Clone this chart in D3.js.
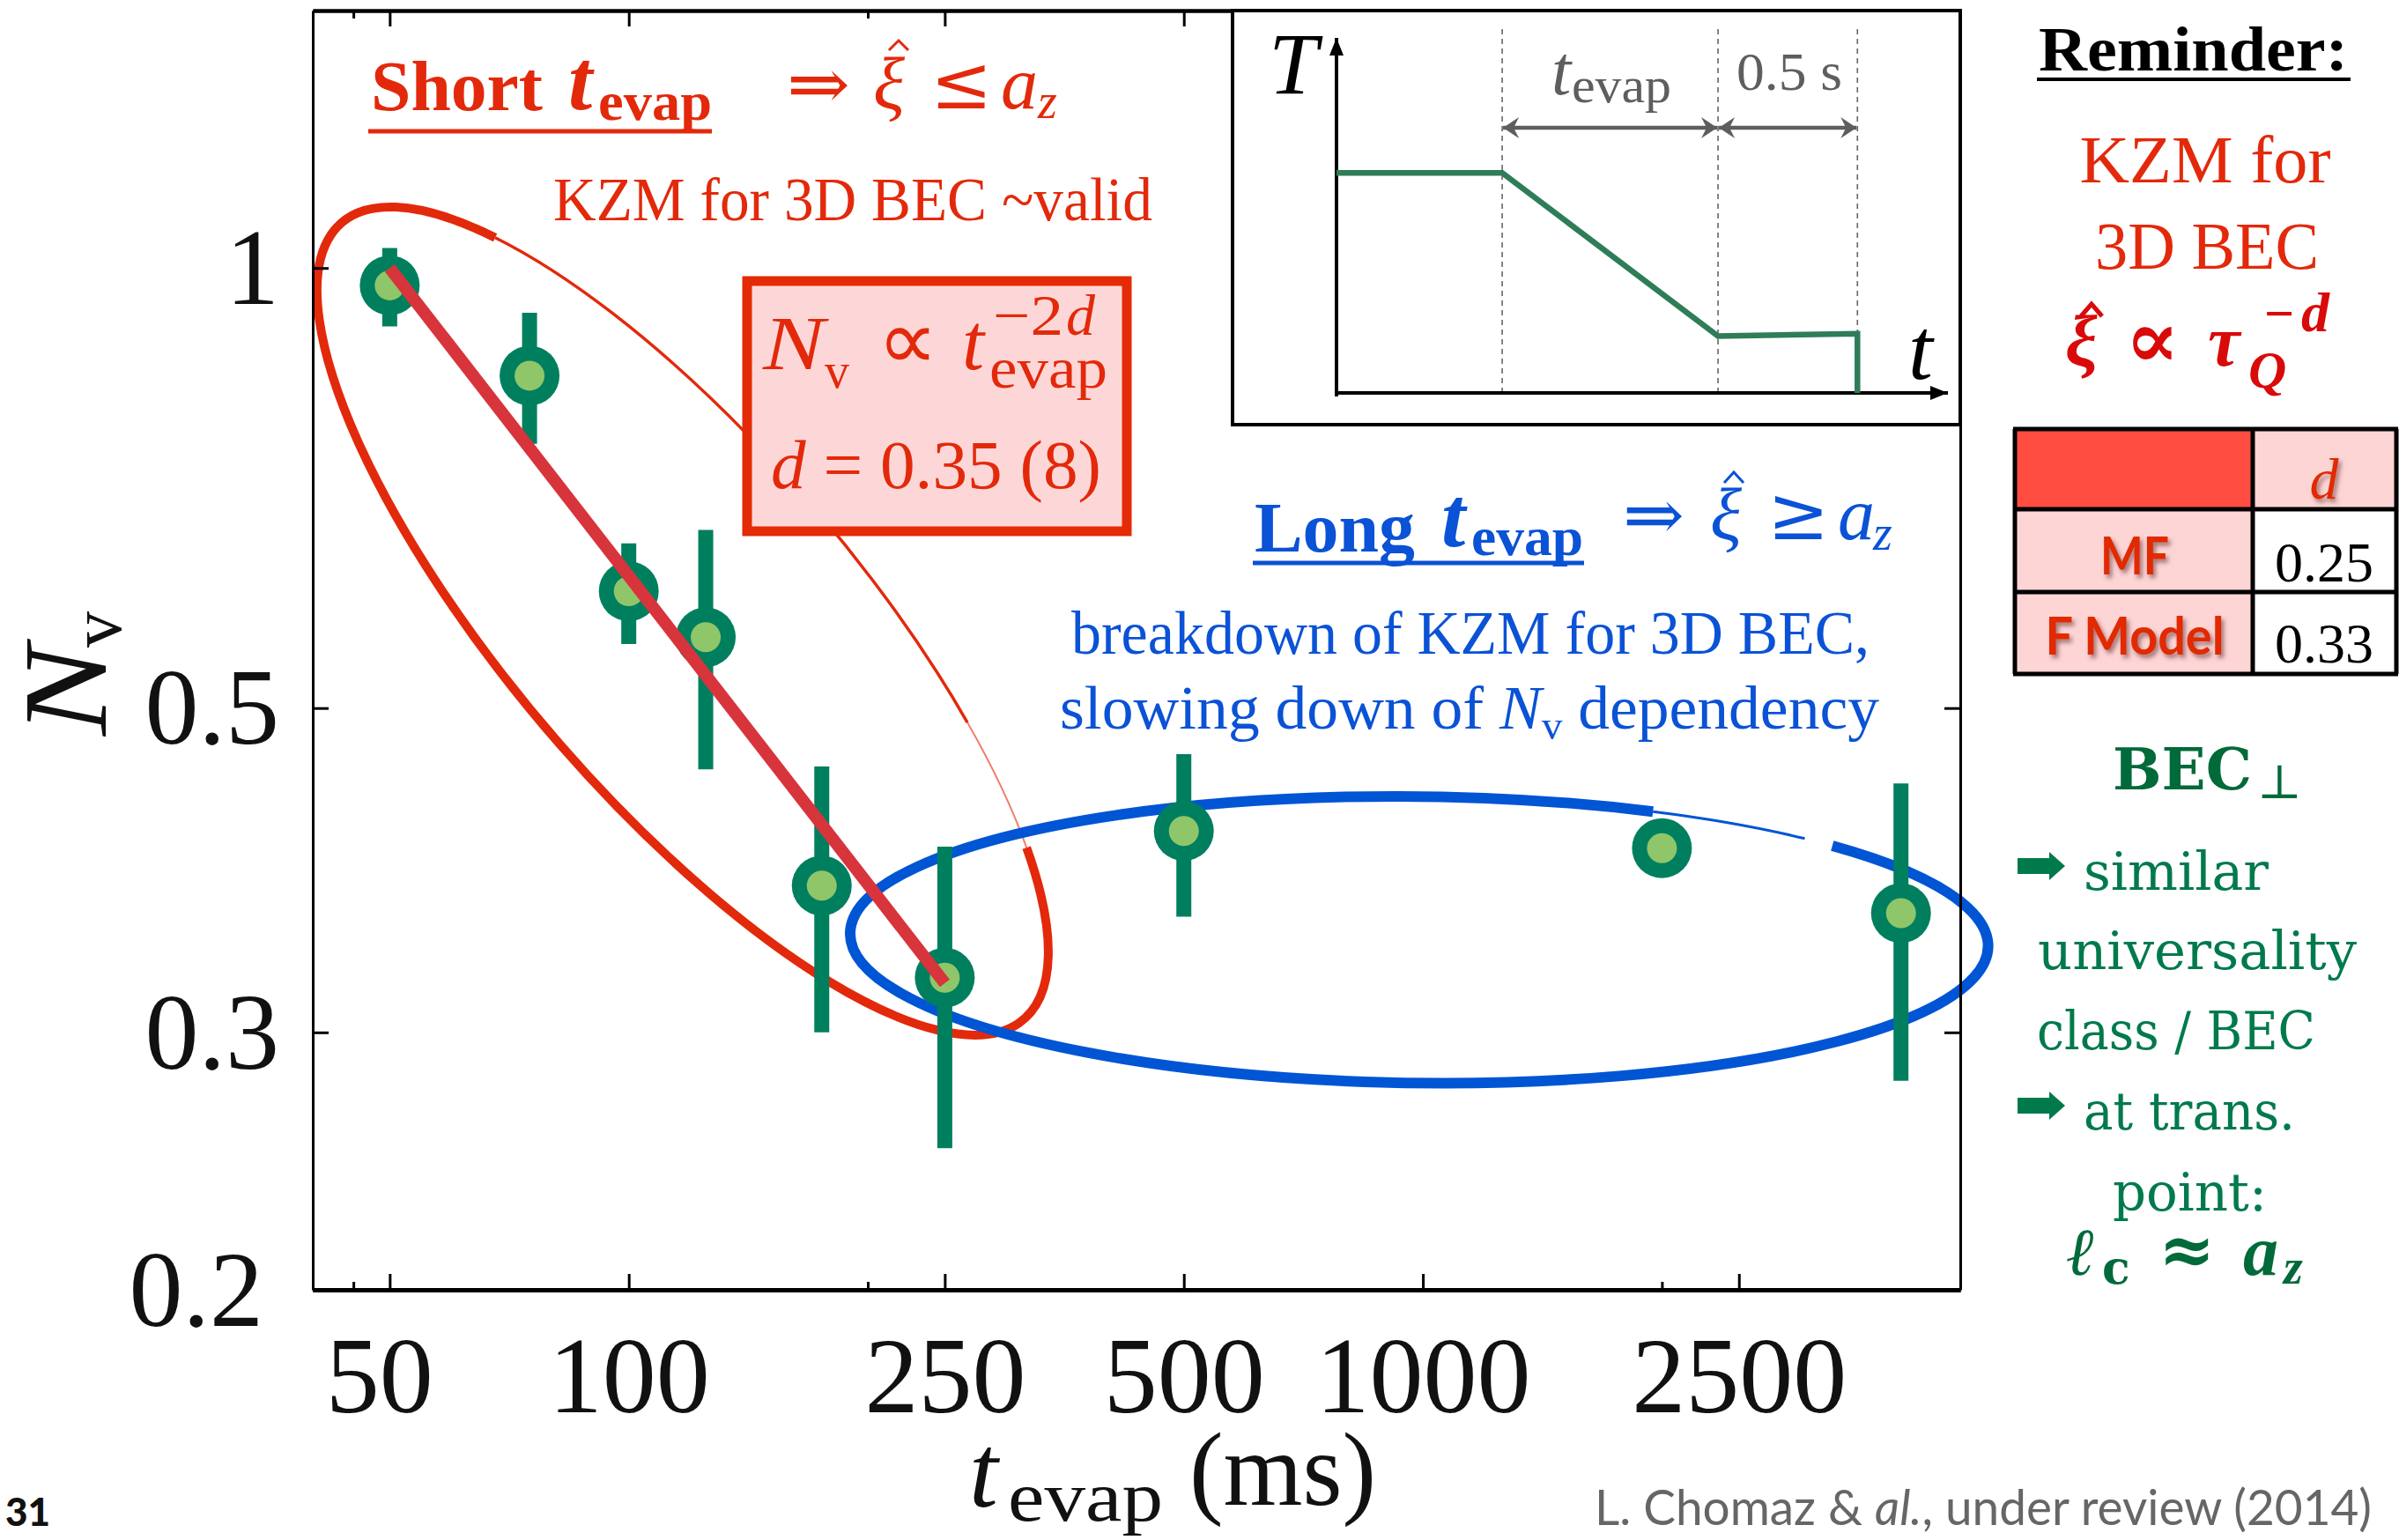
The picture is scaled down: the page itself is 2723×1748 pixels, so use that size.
<!DOCTYPE html>
<html><head><meta charset="utf-8">
<script src="https://cdn.jsdelivr.net/npm/d3@7"></script>
<style>
html,body{margin:0;padding:0;background:#fff;}
svg{display:block;}
</style></head><body>
<svg id="c" width="2723" height="1748"></svg>
<script>
// ---------------- data ----------------
const tevap  = [50, 75, 100, 125, 175, 250, 500, 2000, 4000];
const Nv     = [0.973, 0.844, 0.601, 0.559, 0.378, 0.327, 0.412, 0.401, 0.362];
const NvLow  = [0.912, 0.758, 0.553, 0.454, 0.300, 0.250, 0.360, 0.392, 0.278];
const NvHigh = [1.032, 0.932, 0.648, 0.662, 0.456, 0.402, 0.465, 0.410, 0.444];
const fitRange = [50, 250];
const fitAmp = 1.0;      // Nv at t = 50 ms
const fitD = 0.35;       // Nv ∝ t^(-2d)
const xTicksMajor = [50, 100, 250, 500, 1000, 2500];
const xTicksMinor = [45, 200, 2000];
const yTicks = [0.2, 0.3, 0.5, 1];
const yTickLabels = ["0.2", "0.3", "0.5", "1"];
const tableRows = ["MF", "F Model"];
const tableD = ["0.25", "0.33"];
// inset schematic (normalised time / temperature)
const insetTime = [0, 0.271, 0.624, 0.852, 0.852];
const insetTemp = [0.62, 0.62, 0.16, 0.167, 0];
const insetMarks = [0.271, 0.624, 0.852];
// annotation ellipses in data space
const redEllipseTips = [[43.5, 1.074], [314.3, 0.3062]];
const blueEllipseT = [190, 5150];
const blueEllipseN = [0.277, 0.435];

// ---------------- setup ----------------
const svg = d3.select("#c");
svg.append("rect").attr("width", 2723).attr("height", 1748).attr("fill", "#fff");
const defs = svg.append("defs");
const f = defs.append("filter").attr("id", "shadow").attr("x", "-20%").attr("y", "-20%").attr("width", "140%").attr("height", "140%");
f.append("feDropShadow").attr("dx", 3).attr("dy", 4).attr("stdDeviation", 2.5).attr("flood-color", "#6a3030").attr("flood-opacity", 0.6);
defs.append("marker").attr("id", "barb").attr("viewBox", "-20 -14 22 28").attr("refX", 0).attr("refY", 0)
  .attr("markerWidth", 22).attr("markerHeight", 28).attr("markerUnits", "userSpaceOnUse").attr("orient", "auto-start-reverse")
  .append("path").attr("d", "M0,0 L-18,-12 L-12,0 L-18,12 Z").attr("fill", "#5e5e5e");
defs.append("marker").attr("id", "tri").attr("viewBox", "-22 -10 24 20").attr("refX", 0).attr("refY", 0)
  .attr("markerWidth", 24).attr("markerHeight", 20).attr("markerUnits", "userSpaceOnUse").attr("orient", "auto")
  .append("path").attr("d", "M0,0 L-20,-8 L-20,8 Z").attr("fill", "#000");

const RED = "#e3290b", BLUE = "#0a52d6", GREEN = "#007f5f", LIGHT = "#8fc66a", TXTGREEN = "#007a4c";
const X0 = 355, X1 = 2225, Y0 = 12, Y1 = 1464;
const x = d3.scaleLog().domain([40, 4750]).range([X0, X1]);
const y = d3.scaleLog().domain([0.2, 1.5]).range([Y1, Y0]);

function T(parent, px, py, s, o = {}) {
  const t = parent.append("text").attr("x", px).attr("y", py).text(s)
    .attr("font-family", o.ff || "Liberation Serif")
    .attr("font-size", o.fs || 70)
    .attr("fill", o.fill || "#000");
  if (o.fw) t.attr("font-weight", o.fw);
  if (o.fst) t.attr("font-style", o.fst);
  if (o.anchor) t.attr("text-anchor", o.anchor);
  if (o.len) t.attr("textLength", o.len).attr("lengthAdjust", "spacingAndGlyphs");
  if (o.filter) t.attr("filter", o.filter);
  return t;
}
function hat(cx, cy, w, h, col, sw) {
  svg.append("path").attr("d", `M${cx - w / 2},${cy + h} L${cx},${cy} L${cx + w / 2},${cy + h}`)
    .attr("fill", "none").attr("stroke", col).attr("stroke-width", sw).attr("stroke-linejoin", "miter");
}

// ---------------- annotation ellipses ----------------
// arc of an ellipse (local frame) from angle t1 to t2 (degrees, clockwise on screen)
function arcPath(a, b, t1, t2) {
  const r = Math.PI / 180;
  const p1 = [a * Math.cos(t1 * r), b * Math.sin(t1 * r)], p2 = [a * Math.cos(t2 * r), b * Math.sin(t2 * r)];
  const large = (t2 - t1) > 180 ? 1 : 0;
  return `M${p1[0]},${p1[1]} A${a},${b} 0 ${large} 1 ${p2[0]},${p2[1]}`;
}
{
  const p1 = [x(redEllipseTips[0][0]), y(redEllipseTips[0][1])];
  const p2 = [x(redEllipseTips[1][0]), y(redEllipseTips[1][1])];
  const cx = (p1[0] + p2[0]) / 2, cy = (p1[1] + p2[1]) / 2;
  const a = Math.hypot(p2[0] - p1[0], p2[1] - p1[1]) / 2, b = a * 0.331;
  const ang = Math.atan2(p2[1] - p1[1], p2[0] - p1[0]) * 180 / Math.PI;
  const g = svg.append("g").attr("transform", `translate(${cx},${cy}) rotate(${ang})`);
  g.append("path").attr("d", arcPath(a, b, 218, 300)).attr("fill", "none").attr("stroke", RED).attr("stroke-width", 3.5);
  g.append("path").attr("d", arcPath(a, b, 300, 319)).attr("fill", "none").attr("stroke", RED).attr("stroke-width", 2).attr("opacity", 0.6);
  g.append("path").attr("d", arcPath(a, b, -41, 218)).attr("fill", "none").attr("stroke", RED).attr("stroke-width", 10);
}
{
  const cx = (x(blueEllipseT[0]) + x(blueEllipseT[1])) / 2, rx = (x(blueEllipseT[1]) - x(blueEllipseT[0])) / 2;
  const cy = (y(blueEllipseN[0]) + y(blueEllipseN[1])) / 2, ry = (y(blueEllipseN[0]) - y(blueEllipseN[1])) / 2;
  const g = svg.append("g").attr("transform", `translate(${cx},${cy}) rotate(0.66)`);
  g.append("path").attr("d", arcPath(rx, ry, -43.6, 294.1)).attr("fill", "none").attr("stroke", "#0055d4").attr("stroke-width", 12);
  g.append("path").attr("d", arcPath(rx, ry, 294.1, 312.5)).attr("fill", "none").attr("stroke", "#0055d4").attr("stroke-width", 3);
}

// ---------------- data points ----------------
const pts = tevap.map((t, i) => ({ t, n: Nv[i], lo: NvLow[i], hi: NvHigh[i] }));
const gD = svg.append("g");
gD.selectAll("line.err").data(pts).join("line").attr("class", "err")
  .attr("x1", d => x(d.t)).attr("x2", d => x(d.t)).attr("y1", d => y(d.lo)).attr("y2", d => y(d.hi))
  .attr("stroke", GREEN).attr("stroke-width", 17);
gD.selectAll("circle.o").data(pts).join("circle").attr("class", "o")
  .attr("cx", d => x(d.t)).attr("cy", d => y(d.n)).attr("r", 34).attr("fill", GREEN);
gD.selectAll("circle.i").data(pts).join("circle").attr("class", "i")
  .attr("cx", d => x(d.t)).attr("cy", d => y(d.n)).attr("r", 17).attr("fill", LIGHT);

// fit line
const fitPts = fitRange.map(t => [t, fitAmp * Math.pow(t / fitRange[0], -2 * fitD)]);
svg.append("path").attr("d", d3.line().x(d => x(d[0])).y(d => y(d[1]))(fitPts))
  .attr("fill", "none").attr("stroke", "#d8343c").attr("stroke-width", 14);

// ---------------- axes ----------------
function styleAx(g, w) {
  g.select(".domain").attr("stroke", "#000").attr("stroke-width", w);
  g.selectAll(".tick line").attr("stroke", "#000").attr("stroke-width", 3);
  g.selectAll(".tick text").remove();
}
styleAx(svg.append("g").attr("transform", `translate(0,${Y1})`).call(d3.axisBottom(x).tickValues(xTicksMajor).tickSize(-18).tickSizeOuter(0)), 5);
styleAx(svg.append("g").attr("transform", `translate(0,${Y1})`).call(d3.axisBottom(x).tickValues(xTicksMinor).tickSize(-9).tickSizeOuter(0)), 5);
styleAx(svg.append("g").attr("transform", `translate(0,${Y0})`).call(d3.axisTop(x).tickValues(xTicksMajor).tickSize(-18).tickSizeOuter(0)), 4);
styleAx(svg.append("g").attr("transform", `translate(0,${Y0})`).call(d3.axisTop(x).tickValues(xTicksMinor).tickSize(-9).tickSizeOuter(0)), 4);
styleAx(svg.append("g").attr("transform", `translate(${X0},0)`).call(d3.axisLeft(y).tickValues(yTicks).tickSize(-18).tickSizeOuter(0)), 3);
styleAx(svg.append("g").attr("transform", `translate(${X1},0)`).call(d3.axisRight(y).tickValues(yTicks).tickSize(-18).tickSizeOuter(0)), 3);

// tick labels
const xl = svg.append("g").attr("transform", `translate(0,${Y1})`)
  .call(d3.axisBottom(x).tickValues(xTicksMajor).tickSize(0).tickFormat(d3.format("d")));
xl.select(".domain").remove();
xl.selectAll("text").attr("y", 139).attr("dy", 0).attr("font-family", "Liberation Serif").attr("font-size", 122).attr("fill", "#111")
  .attr("dx", d => d === 50 ? -12 : 0);
const yl = svg.append("g").attr("transform", `translate(${X0},0)`)
  .call(d3.axisLeft(y).tickValues(yTicks).tickSize(0).tickPadding(38).tickFormat((d, i) => yTickLabels[i]));
yl.select(".domain").remove();
yl.selectAll("text").attr("font-family", "Liberation Serif").attr("font-size", 122).attr("fill", "#111").attr("dy", "0.33em")
  .attr("dx", d => d === 0.2 ? -18 : 0);

// axis titles
{
  const g = svg.append("g").attr("transform", "translate(120,835) rotate(-90)");
  T(g, 0, 0, "N", { fs: 135, fst: "italic", len: 103, fill: "#111" });
  T(g, 100, 17, "v", { fs: 82, fill: "#111" });
  T(svg, 1100, 1710, "t", { fs: 118, fst: "italic", fill: "#111" });
  T(svg, 1144, 1726, "evap", { fs: 80, len: 176, fill: "#111" });
  T(svg, 1350, 1708, "(ms)", { fs: 118, len: 212, fill: "#111" });
}

// ---------------- fit formula box ----------------
svg.append("rect").attr("x", 848).attr("y", 319).attr("width", 431).attr("height", 284)
  .attr("fill", "#fdd7d7").attr("stroke", "#e42a06").attr("stroke-width", 11);
T(svg, 866, 419, "N", { fs: 86, fst: "italic", fill: RED, len: 70 });
T(svg, 936, 440, "v", { fs: 56, fill: RED });
T(svg, 996, 419, "∝", { fs: 96, fill: RED });
T(svg, 1092, 419, "t", { fs: 90, fst: "italic", fill: RED });
T(svg, 1123, 440, "evap", { fs: 66, fill: RED, len: 134 });
T(svg, 1127, 380, "−2", { fs: 66, fill: RED, len: 80 });
T(svg, 1210, 380, "d", { fs: 66, fst: "italic", fill: RED });
{
  const t = svg.append("text").attr("x", 875).attr("y", 554).attr("font-family", "Liberation Serif")
    .attr("font-size", 78).attr("fill", RED).attr("textLength", 375).attr("lengthAdjust", "spacingAndGlyphs");
  t.append("tspan").attr("font-style", "italic").text("d");
  t.append("tspan").text(" = 0.35 (8)");
}

// ---------------- red / blue commentary ----------------
T(svg, 421, 125, "Short", { fs: 80, fw: "bold", fill: RED, len: 195 });
T(svg, 645, 124, "t", { fs: 98, fw: "bold", fst: "italic", fill: RED });
T(svg, 679, 136, "evap", { fs: 62, fw: "bold", fill: RED, len: 129 });
svg.append("line").attr("x1", 418).attr("x2", 808).attr("y1", 149).attr("y2", 149).attr("stroke", RED).attr("stroke-width", 5);
T(svg, 893, 123, "⇒", { fs: 80, fill: RED, ff: "DejaVu Serif", len: 72 });
T(svg, 991, 123, "ξ", { fs: 84, fst: "italic", fill: RED });
hat(1020, 46, 22, 11, RED, 3);
T(svg, 1056, 123, "≤", { fs: 84, fill: RED, ff: "DejaVu Serif" });
T(svg, 1136, 123, "a", { fs: 84, fst: "italic", fill: RED });
T(svg, 1178, 134, "z", { fs: 56, fst: "italic", fill: RED });
T(svg, 628, 250, "KZM for 3D BEC ~valid", { fs: 70, fill: RED, len: 680 });

T(svg, 1424, 626, "Long", { fs: 80, fw: "bold", fill: BLUE, len: 182 });
T(svg, 1636, 620, "t", { fs: 98, fw: "bold", fst: "italic", fill: BLUE });
T(svg, 1670, 630, "evap", { fs: 62, fw: "bold", fill: BLUE, len: 127 });
svg.append("line").attr("x1", 1422).attr("x2", 1798).attr("y1", 639).attr("y2", 639).attr("stroke", BLUE).attr("stroke-width", 5);
T(svg, 1842, 612, "⇒", { fs: 80, fill: BLUE, ff: "DejaVu Serif", len: 70 });
T(svg, 1941, 612, "ξ", { fs: 84, fst: "italic", fill: BLUE });
hat(1968, 536, 22, 12, BLUE, 3);
T(svg, 2006, 612, "≥", { fs: 84, fill: BLUE, ff: "DejaVu Serif" });
T(svg, 2086, 612, "a", { fs: 84, fst: "italic", fill: BLUE });
T(svg, 2126, 624, "z", { fs: 56, fst: "italic", fill: BLUE });
T(svg, 1216, 742, "breakdown of KZM for 3D BEC,", { fs: 70, fill: BLUE, len: 906 });
{
  const t = svg.append("text").attr("x", 1203).attr("y", 827).attr("font-family", "Liberation Serif")
    .attr("font-size", 70).attr("fill", BLUE).attr("textLength", 930).attr("lengthAdjust", "spacingAndGlyphs");
  t.append("tspan").text("slowing down of ");
  t.append("tspan").attr("font-style", "italic").text("N");
  t.append("tspan").attr("font-size", 46).attr("dy", 12).text("v");
  t.append("tspan").attr("dy", -12).text(" dependency");
}

// ---------------- inset ----------------
{
  const g = svg.append("g");
  g.append("rect").attr("x", 1399).attr("y", 12).attr("width", 826).attr("height", 470)
    .attr("fill", "#fff").attr("stroke", "#000").attr("stroke-width", 4);
  const ix = d3.scaleLinear().domain([0, 1]).range([1517, 2211]);
  const iy = d3.scaleLinear().domain([0, 1]).range([446, 43]);
  g.selectAll("line.dash").data(insetMarks).join("line").attr("class", "dash")
    .attr("x1", d => ix(d)).attr("x2", d => ix(d)).attr("y1", 33).attr("y2", 447)
    .attr("stroke", "#666").attr("stroke-width", 1.6).attr("stroke-dasharray", "6 5");
  g.append("line").attr("x1", ix(0)).attr("x2", ix(0)).attr("y1", iy(0) + 4).attr("y2", iy(1))
    .attr("stroke", "#000").attr("stroke-width", 4).attr("marker-end", "url(#tri)");
  g.append("line").attr("x1", ix(0) - 2).attr("x2", ix(1)).attr("y1", iy(0)).attr("y2", iy(0))
    .attr("stroke", "#000").attr("stroke-width", 4).attr("marker-end", "url(#tri)");
  g.append("path").attr("d", d3.line().x((d, i) => ix(insetTime[i])).y(d => iy(d))(insetTemp))
    .attr("fill", "none").attr("stroke", "#2e7d58").attr("stroke-width", 6.5);
  for (let k = 0; k < 2; k++) {
    g.append("line").attr("x1", ix(insetMarks[k]) + 1).attr("x2", ix(insetMarks[k + 1]) - 1).attr("y1", 145).attr("y2", 145)
      .attr("stroke", "#5e5e5e").attr("stroke-width", 4.5).attr("marker-start", "url(#barb)").attr("marker-end", "url(#barb)");
  }
  T(g, 1440, 106, "T", { fs: 100, fst: "italic", fill: "#000" });
  T(g, 2166, 430, "t", { fs: 100, fst: "italic", fill: "#000" });
  T(g, 1761, 107, "t", { fs: 80, fst: "italic", fill: "#5e5e5e" });
  T(g, 1784, 116, "evap", { fs: 56, fill: "#5e5e5e", len: 113 });
  T(g, 1971, 102, "0.5 s", { fs: 62, fill: "#5e5e5e", len: 120 });
}

// ---------------- right column ----------------
T(svg, 2314, 80, "Reminder:", { fs: 72, fw: "bold", len: 351 });
svg.append("line").attr("x1", 2312).attr("x2", 2668).attr("y1", 90).attr("y2", 90).attr("stroke", "#000").attr("stroke-width", 4);
T(svg, 2503, 207, "KZM for", { fs: 76, fill: RED, anchor: "middle", len: 285 });
T(svg, 2505, 305, "3D BEC", { fs: 76, fill: RED, anchor: "middle", len: 254 });
{
  const DR = "#d90a0a";
  T(svg, 2344, 415, "ξ", { fs: 82, fw: "bold", fst: "italic", fill: DR });
  hat(2374, 345, 24, 14, DR, 5);
  T(svg, 2412, 417, "∝", { fs: 92, fw: "bold", fill: DR, ff: "DejaVu Serif" });
  T(svg, 2506, 415, "τ", { fs: 82, fw: "bold", fst: "italic", fill: DR });
  T(svg, 2552, 440, "Q", { fs: 60, fw: "bold", fst: "italic", fill: DR });
  T(svg, 2570, 376, "−", { fs: 60, fw: "bold", fill: DR });
  T(svg, 2612, 376, "d", { fs: 64, fw: "bold", fst: "italic", fill: DR });
}
// table
{
  const g = svg.append("g");
  const cx0 = 2287, cx1 = 2557, cx2 = 2720;
  const ry = [487, 578, 672, 765];
  g.append("rect").attr("x", cx0).attr("y", ry[0]).attr("width", cx1 - cx0).attr("height", ry[1] - ry[0]).attr("fill", "#ff4d42");
  g.append("rect").attr("x", cx1).attr("y", ry[0]).attr("width", cx2 - cx1).attr("height", ry[1] - ry[0]).attr("fill", "#fdd5d5");
  tableRows.forEach((r, i) => {
    g.append("rect").attr("x", cx0).attr("y", ry[i + 1]).attr("width", cx1 - cx0).attr("height", ry[i + 2] - ry[i + 1]).attr("fill", "#fdd5d5");
    g.append("rect").attr("x", cx1).attr("y", ry[i + 1]).attr("width", cx2 - cx1).attr("height", ry[i + 2] - ry[i + 1]).attr("fill", "#fff");
  });
  ry.forEach(v => g.append("line").attr("x1", cx0 - 2).attr("x2", cx2 + 2).attr("y1", v).attr("y2", v).attr("stroke", "#000").attr("stroke-width", 5));
  [cx0, cx1, cx2].forEach(v => g.append("line").attr("x1", v).attr("x2", v).attr("y1", ry[0]).attr("y2", ry[3]).attr("stroke", "#000").attr("stroke-width", 5));
  T(g, 2638, 566, "d", { fs: 66, fst: "italic", fill: "#e12a06", anchor: "middle", filter: "url(#shadow)" });
  const lens = [78, 203];
  tableRows.forEach((r, i) => {
    T(g, 2423, [652, 743][i], r, { ff: "Lato", fw: 700, fs: 60, fill: "#e12a06", anchor: "middle", len: lens[i], filter: "url(#shadow)" });
    T(g, 2638, [660, 752][i], tableD[i], { fs: 64, anchor: "middle" });
  });
}
// green notes
{
  const G = TXTGREEN;
  T(svg, 2398, 896, "BEC", { ff: "DejaVu Serif", fw: "bold", fs: 66, fill: "#006a3a", len: 158 });
  T(svg, 2562, 906, "⊥", { ff: "DejaVu Serif", fs: 54, fill: "#006a3a" });
  const arrow = (cy) => svg.append("path")
    .attr("d", `M2290,${cy - 9} H2326 V${cy - 16} L2344,${cy} L2326,${cy + 16} V${cy + 9} H2290 Z`).attr("fill", G);
  arrow(983);
  T(svg, 2365, 1010, "similar", { ff: "DejaVu Serif", fs: 60, fill: G, len: 210 });
  T(svg, 2313, 1100, "universality", { ff: "DejaVu Serif", fs: 60, fill: G, len: 362 });
  T(svg, 2312, 1191, "class / BEC", { ff: "DejaVu Serif", fs: 60, fill: G, len: 316 });
  arrow(1255);
  T(svg, 2365, 1282, "at trans.", { ff: "DejaVu Serif", fs: 60, fill: G, len: 240 });
  T(svg, 2398, 1374, "point:", { ff: "DejaVu Serif", fs: 60, fill: G, len: 175 });
  T(svg, 2346, 1447, "ℓ", { ff: "DejaVu Serif", fs: 76, fw: "bold", fst: "italic", fill: "#006a3a" });
  T(svg, 2386, 1457, "c", { ff: "DejaVu Serif", fs: 52, fw: "bold", fill: "#006a3a" });
  T(svg, 2450, 1446, "≈", { ff: "DejaVu Serif", fs: 80, fw: "bold", fill: "#006a3a", len: 64 });
  T(svg, 2546, 1447, "a", { fs: 80, fw: "bold", fst: "italic", fill: "#006a3a" });
  T(svg, 2592, 1457, "z", { fs: 56, fw: "bold", fst: "italic", fill: "#006a3a" });
}

// ---------------- footer ----------------
T(svg, 6, 1732, "31", { ff: "Lato", fw: 900, fs: 44, fill: "#111" });
{
  const t = svg.append("text").attr("x", 1810).attr("y", 1731).attr("font-family", "Lato").attr("font-size", 56)
    .attr("fill", "#666").attr("textLength", 882).attr("lengthAdjust", "spacingAndGlyphs");
  t.append("tspan").text("L. Chomaz & ");
  t.append("tspan").attr("font-style", "italic").text("al.");
  t.append("tspan").text(", under review (2014)");
}
</script>
</body></html>
